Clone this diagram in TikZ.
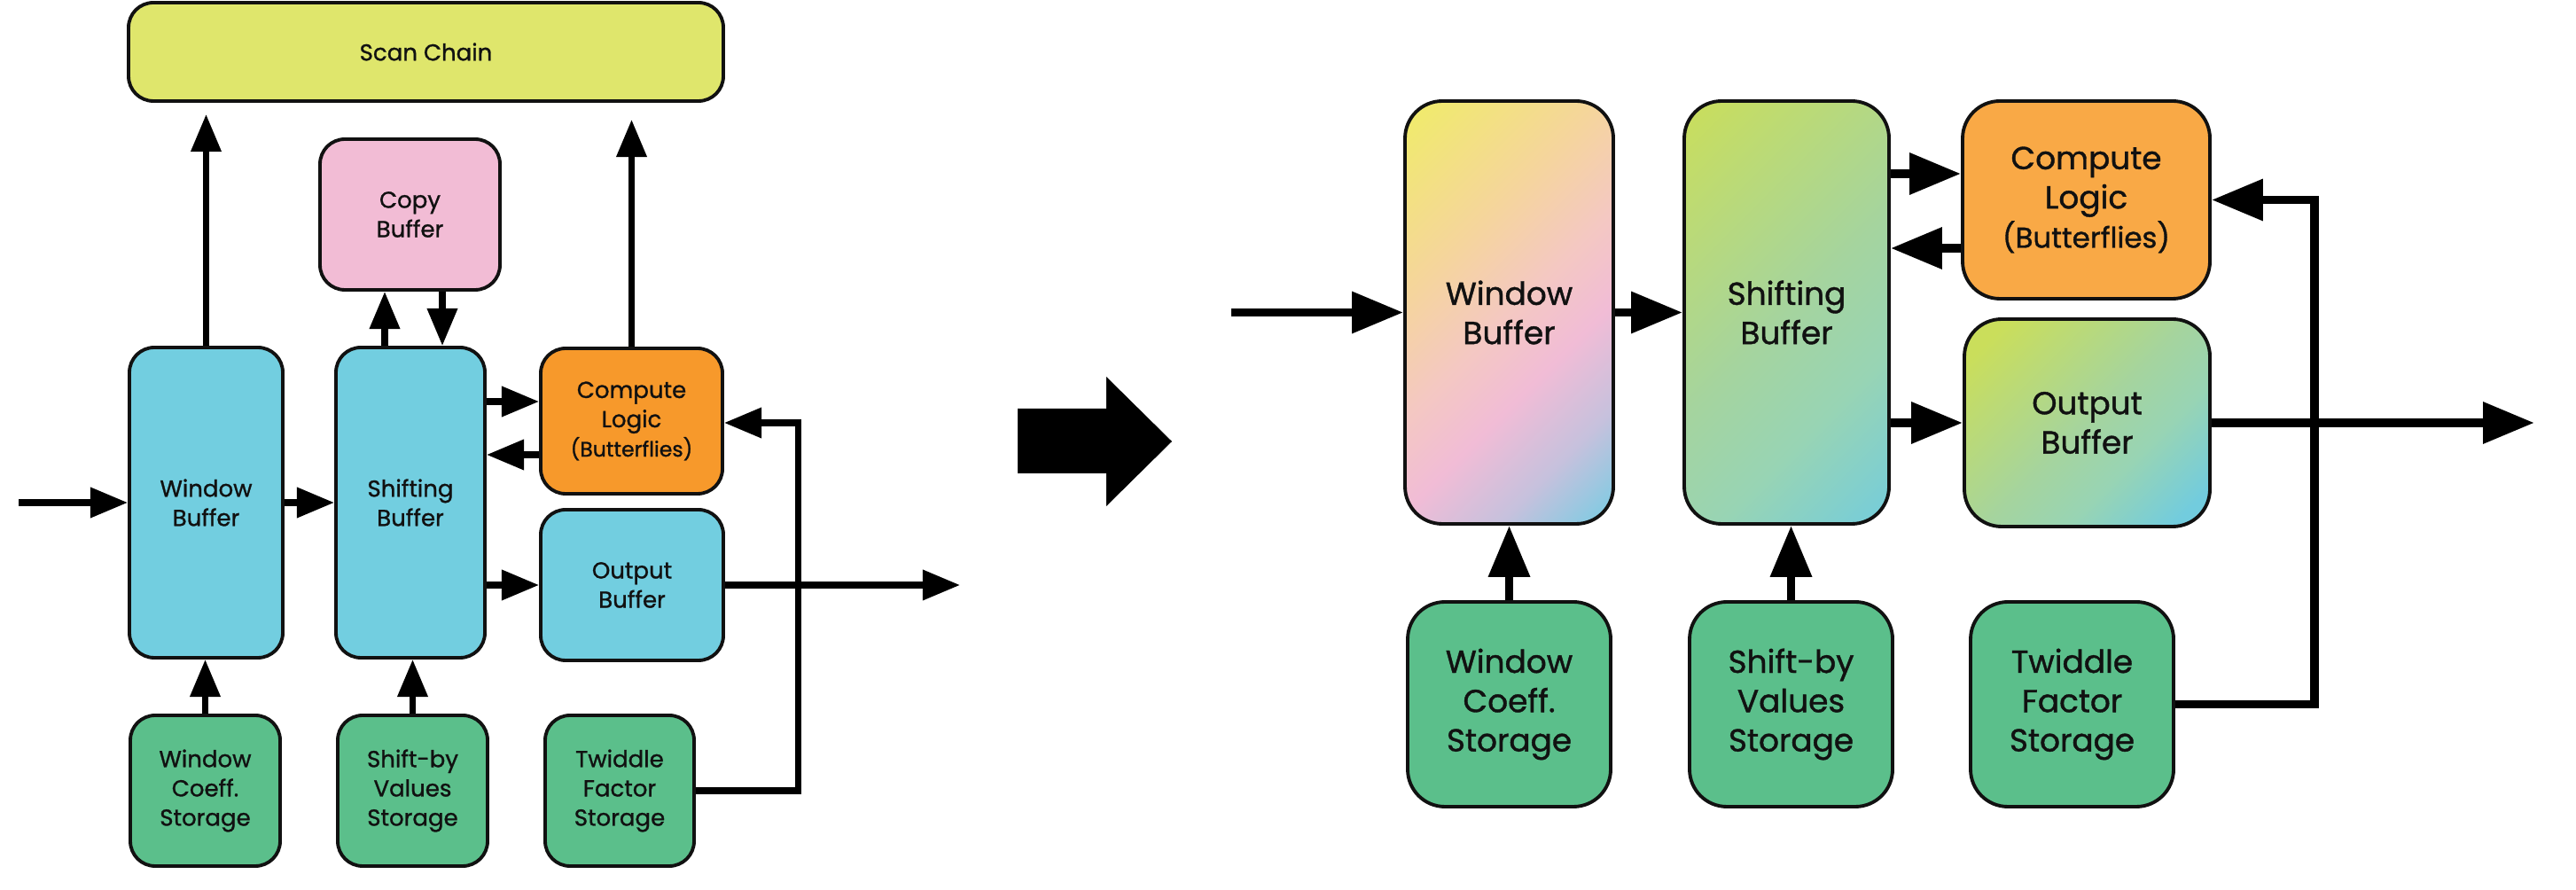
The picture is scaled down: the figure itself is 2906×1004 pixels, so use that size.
\documentclass[tikz,border=0pt]{standalone}
\usepackage{fontspec}
\setmainfont{Poppins}[FakeBold=1.1]
\usetikzlibrary{arrows.meta,calc}

% flat fills
\definecolor{scanY}{HTML}{DFE66C}
\definecolor{copyP}{HTML}{F2BCD5}
\definecolor{bufB}{HTML}{72CEE0}
\definecolor{compO}{HTML}{F7992B}
\definecolor{compO2}{HTML}{F9A946}
\definecolor{storG}{HTML}{5BBF8B}
\definecolor{inkK}{HTML}{111111}
% gradient stops, window buffer
\definecolor{wA}{HTML}{F0EC69}
\definecolor{wB}{HTML}{F5D59C}
\definecolor{wC}{HTML}{F4C8C2}
\definecolor{wD}{HTML}{F1BCD6}
\definecolor{wE}{HTML}{C6C1DD}
\definecolor{wF}{HTML}{72CDE3}
% gradient stops, shifting / output buffers
\definecolor{sA}{HTML}{CADE5B}
\definecolor{sB}{HTML}{A5D49E}
\definecolor{sC}{HTML}{98D4B4}
\definecolor{sD}{HTML}{72CCDE}

\pgfdeclarehorizontalshading{windowgrad}{100bp}{color(0bp)=(wA); color(24bp)=(wA); color(40bp)=(wB); color(50bp)=(wC); color(58bp)=(wD); color(67bp)=(wE); color(77bp)=(wF); color(100bp)=(wF)}
\pgfdeclarehorizontalshading{shiftgrad}{100bp}{color(0bp)=(sA); color(24bp)=(sA); color(50bp)=(sB); color(62bp)=(sC); color(77bp)=(sD); color(100bp)=(sD)}

\begin{document}
\begin{tikzpicture}[x=0.01cm, y=-0.01cm,
  sz/.style 2 args={minimum width={(#1)*0.01cm}, minimum height={(#2)*0.01cm}},
  boxL/.style={draw=inkK, line width=1.1pt, rounded corners=0.28cm, inner sep=0pt,
    align=center, text=inkK, font=\fontsize{7.4}{9.4}\selectfont},
  boxR/.style={draw=inkK, line width=1.1pt, rounded corners=0.42cm, inner sep=0pt,
    align=center, text=inkK, font=\fontsize{10.2}{12.6}\selectfont},
  arrL/.style={draw=black, line width=2pt, -{Triangle[length=12pt,width=9.4pt]}},
  arrR/.style={draw=black, line width=2.8pt, -{Triangle[length=16.5pt,width=12.8pt]}},
  gradfill/.style 2 args={path picture={
    \shade[shading=#1, shading angle=-45]
      ($(path picture bounding box.center)+(-#2,-#2)$) rectangle
      ($(path picture bounding box.center)+(#2,#2)$);}},
]
\fill[white] (0,0) rectangle (2906,1004);
\useasboundingbox (0,0) rectangle (2906,1004);

% ---------- original architecture ----------
\node[boxL, fill=scanY, sz={671}{111}] (scan) at (480.5,58.5) {Scan Chain};
\node[boxL, fill=copyP, sz={203}{170}] (copy) at (462.5,242) {Copy\\Buffer};
\node[boxL, fill=bufB, sz={173}{350}] (winL) at (232.5,567) {Window\\Buffer};
\node[boxL, fill=bufB, sz={168}{350}] (shiftL) at (463,567) {Shifting\\Buffer};
\node[boxL, fill=compO, sz={205}{164}] (compL) at (712.5,475)
  {Compute\\Logic\\{\fontsize{6.7}{9.4}\selectfont (Butterflies)}};
\node[boxL, fill=bufB, sz={206}{170}] (outL) at (713,660) {Output\\Buffer};
\node[boxL, fill=storG, sz={169}{170}] (wcL) at (231.5,892) {Window\\Coeff.\\Storage};
\node[boxL, fill=storG, sz={169}{170}] (sbL) at (465.5,892) {Shift-by\\Values\\Storage};
\node[boxL, fill=storG, sz={168}{170}] (twL) at (699,892) {Twiddle\\Factor\\Storage};

\coordinate (inL) at (21,567);
\coordinate (outEndL) at (1083,660);

\draw[arrL] (inL) -- (winL.west);
\draw[arrL] (winL.east) -- (shiftL.west);
\draw[arrL] ($(shiftL.east |- compL.west)+(0,-22)$) -- ($(compL.west)+(0,-22)$);
\draw[arrL] ($(compL.west)+(0,38)$) -- ($(shiftL.east |- compL.west)+(0,38)$);
\draw[arrL] (shiftL.east |- outL.west) -- (outL.west);
\draw[arrL] (outL.east) -- (outEndL);
\draw[arrL] (twL.east) -- ++(116,0) |- ($(compL.east)+(0,2)$);
\draw[arrL] (winL.north) -- ($(winL.north |- scan.south)+(0,13)$);
\draw[arrL] (compL.north) -- ($(compL.north |- scan.south)+(0,19)$);
\draw[arrL] ($(shiftL.north)+(-29,0)$) -- ($(shiftL.north |- copy.south)+(-29,0)$);
\draw[arrL] ($(shiftL.north |- copy.south)+(36,0)$) -- ($(shiftL.north)+(36,0)$);
\draw[arrL] (wcL.north) -- (wcL.north |- winL.south);
\draw[arrL] (sbL.north) -- (sbL.north |- shiftL.south);

% ---------- transition arrow ----------
\fill[black] (1148,461) -- (1248,461) -- (1248,425) -- (1322,498) -- (1248,571)
  -- (1248,534) -- (1148,534) -- cycle;

% ---------- revised architecture ----------
\node[boxR, gradfill={windowgrad}{238}, sz={235}{477}] (winR) at (1702.5,352.5) {Window\\Buffer};
\node[boxR, gradfill={shiftgrad}{238}, sz={231}{477}] (shiftR) at (2015.5,352.5) {Shifting\\Buffer};
\node[boxR, fill=compO2, sz={279}{223}] (compR) at (2353.5,225.5)
  {Compute\\Logic\\{\fontsize{9.2}{12.6}\selectfont (Butterflies)}};
\node[boxR, gradfill={shiftgrad}{140}, sz={277}{234}] (outR) at (2354.5,477) {Output\\Buffer};
\node[boxR, fill=storG, sz={229}{231}] (wcR) at (1702.5,794.5) {Window\\Coeff.\\Storage};
\node[boxR, fill=storG, sz={229}{231}] (sbR) at (2020.5,794.5) {Shift-by\\Values\\Storage};
\node[boxR, fill=storG, sz={229}{231}] (twR) at (2337.5,794.5) {Twiddle\\Factor\\Storage};

\coordinate (inR) at (1389,352.5);
\coordinate (outEndR) at (2859,477);

\draw[arrR] (inR) -- (winR.west);
\draw[arrR] (winR.east) -- (shiftR.west);
\draw[arrR] ($(shiftR.east |- compR.west)+(0,-29.5)$) -- ($(compR.west)+(0,-29.5)$);
\draw[arrR] ($(compR.west)+(0,54.5)$) -- ($(shiftR.east |- compR.west)+(0,54.5)$);
\draw[arrR] (shiftR.east |- outR.west) -- (outR.west);
\draw[arrR] (outR.east) -- (outEndR);
\draw[arrR] (twR.east) -- ++(157,0) |- (compR.east);
\draw[arrR] (wcR.north) -- (wcR.north |- winR.south);
\draw[arrR] (sbR.north) -- (sbR.north |- shiftR.south);
\end{tikzpicture}
\end{document}
